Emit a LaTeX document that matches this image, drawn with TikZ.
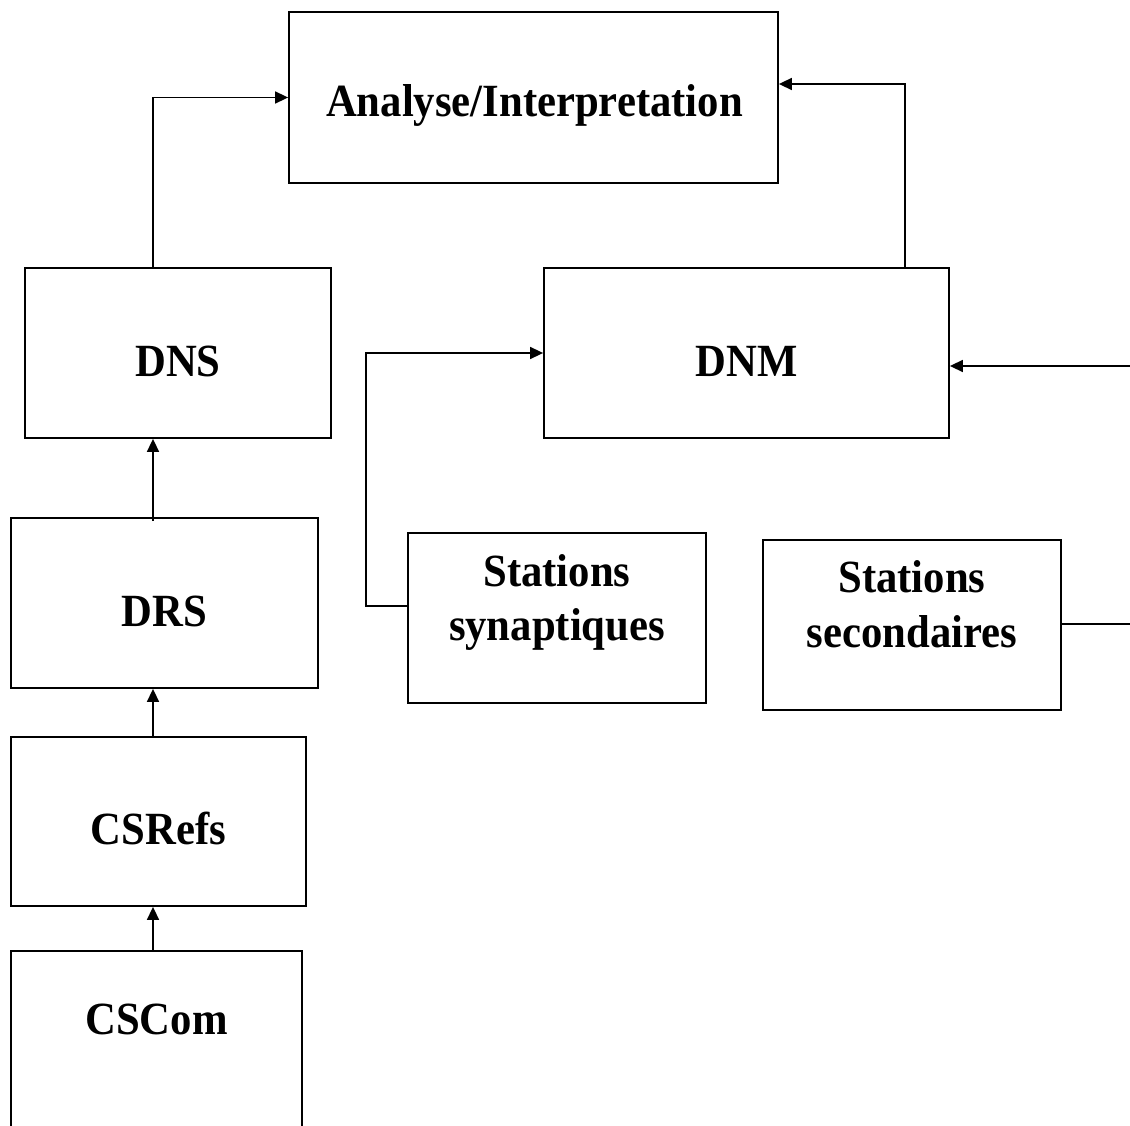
\documentclass[tikz,border=0pt]{standalone}
\usepackage{fontspec}
\setmainfont{Liberation Serif}
\usetikzlibrary{arrows.meta}
\newcommand{\stretchtxt}[1]{\scalebox{1}[1.08]{#1}}
\begin{document}
\begin{tikzpicture}[x=1pt,y=-1pt,
  box/.style={draw,line width=1.8pt,inner sep=0pt},
  lbl/.style={inner sep=0pt,anchor=base,font=\fontsize{42.7}{50}\selectfont\bfseries},
  arr/.style={line width=1.6pt,-{Triangle[length=13pt,width=12pt]}},
  ln/.style={line width=1.6pt}]
\useasboundingbox (0,0) rectangle (1130,1126);
% boxes
\node[box,minimum width=489,minimum height=171] (ana) at (533.5,97.5) {};
\node[box,minimum width=306,minimum height=170] (dns) at (178,353) {};
\node[box,minimum width=405,minimum height=170] (dnm) at (746.5,353) {};
\node[box,minimum width=307,minimum height=170] (drs) at (164.5,603) {};
\node[box,minimum width=298,minimum height=170] (syn) at (557,618) {};
\node[box,minimum width=298,minimum height=170] (sec) at (912,625) {};
\node[box,minimum width=295,minimum height=169] (csr) at (158.5,821.5) {};
\node[box,minimum width=291,minimum height=200,anchor=north] (csc) at (156.5,950) {};
% texts
\node[lbl] (anat) at (534.5,117) {\stretchtxt{Analyse/Interpretation}};
\node[lbl] (dnst) at (178,376) {\stretchtxt{DNS}};
\node[lbl] (dnmt) at (746.5,376) {\stretchtxt{DNM}};
\node[lbl] (drst) at (164.5,626) {\stretchtxt{DRS}};
\node[lbl] (synt1) at (557,586) {\stretchtxt{Stations}};
\node[lbl] (synt2) at (557,640) {\stretchtxt{synaptiques}};
\node[lbl] (sect1) at (912,592) {\stretchtxt{Stations}};
\node[lbl] (sect2) at (912,647) {\stretchtxt{secondaires}};
\node[lbl] (csrt) at (158.5,844) {\stretchtxt{CSRefs}};
\node[lbl] (csct) at (156.5,1034) {\stretchtxt{CSCom}};
% connectors
\draw[arr] ([xshift=-25]dns.north) |- (ana.west);
\draw[arr] ([xshift=158.5]dnm.north) |- ([yshift=13.5]ana.east);
\coordinate (s1) at (366,606);
\draw[arr] ([yshift=12]syn.west) -- (s1) |- (dnm.west);
\coordinate (r1) at (1135,624);
\coordinate (r2) at (1135,366);
\draw[arr] ([yshift=1]sec.east) -- (r1) -- (r2) -- ([yshift=-13]dnm.east);
\draw[arr] ([xshift=-11.5,yshift=-4]drs.north) -- ([xshift=-25]dns.south);
\draw[arr] ([xshift=-5.5]csr.north) -- ([xshift=-11.5]drs.south);
\draw[arr] ([xshift=-3.5]csc.north) -- ([xshift=-5.5]csr.south);
\end{tikzpicture}
\end{document}
